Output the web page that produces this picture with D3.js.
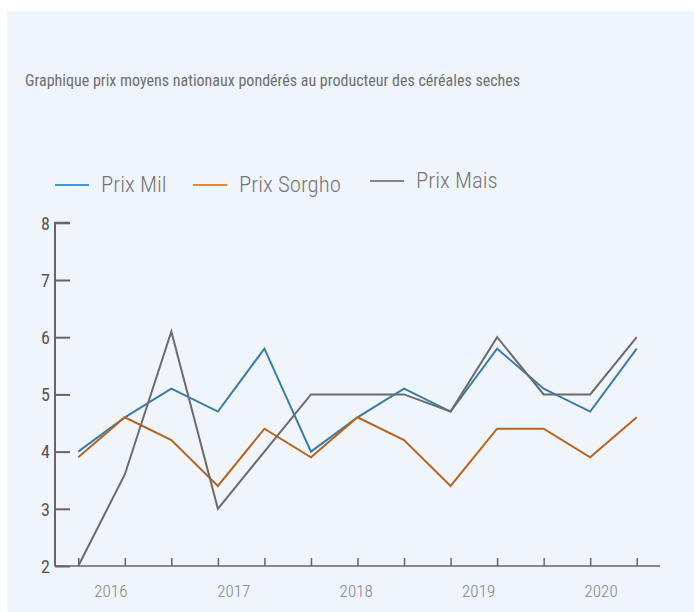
<!DOCTYPE html>
<html>
<head>
<meta charset="utf-8">
<script src="https://cdn.jsdelivr.net/npm/d3@7"></script>
<style>
  html, body { margin: 0; padding: 0; background: #ffffff; }
  svg { display: block; }
  text { font-family: "Roboto", "Liberation Sans Narrow", sans-serif; font-stretch: condensed; }
</style>
</head>
<body>
<svg id="chart" width="694" height="612"></svg>
<script>
// Prix moyens nationaux pondérés au producteur (par période)
const periods = d3.range(13);
const prixMil    = [4.0, 4.6, 5.1, 4.7, 5.8, 4.0, 4.6, 5.1, 4.7, 5.8, 5.1, 4.7, 5.8];
const prixSorgho = [3.9, 4.6, 4.2, 3.4, 4.4, 3.9, 4.6, 4.2, 3.4, 4.4, 4.4, 3.9, 4.6];
const prixMais   = [2.0, 3.6, 6.1, 3.0, 4.0, 5.0, 5.0, 5.0, 4.7, 6.0, 5.0, 5.0, 6.0];
const yTicks = [2, 3, 4, 5, 6, 7, 8];
const yearLabels = ["2016", "2017", "2018", "2019", "2020"];
const timeSpan = [new Date(2015, 6, 20), new Date(2020, 5, 26)];

const series = [
  { name: "Prix Mil",    values: prixMil,    line: "#3a7da3", swatch: "#3d9ad6", dy: 0 },
  { name: "Prix Sorgho", values: prixSorgho, line: "#b5651f", swatch: "#f0862a", dy: 0 },
  { name: "Prix Mais",   values: prixMais,   line: "#6b6b6b", swatch: "#888888", dy: -4 }
];

const svg = d3.select("#chart");

svg.append("rect")
  .attr("x", 7).attr("y", 11)
  .attr("width", 687).attr("height", 601)
  .attr("fill", "#f0f4fb");

svg.append("text")
  .attr("x", 25).attr("y", 86)
  .attr("font-size", 16)
  .attr("fill", "#6f6f6f")
  .text("Graphique prix moyens nationaux pondérés au producteur des céréales seches");

const plotLeft = 55, plotRight = 660, plotTop = 222.8, plotBottom = 566;

const x = d3.scalePoint().domain(periods).range([plotLeft, plotRight]).padding(0.5);
const y = d3.scaleLinear().domain([2, 8]).range([plotBottom, plotTop]);
const xTime = d3.scaleTime().domain(timeSpan).range([plotLeft, plotRight]);

// Axe vertical
const yAxis = svg.append("g")
  .attr("transform", `translate(${plotLeft},0)`)
  .call(d3.axisRight(y).tickValues(yTicks).tickSize(15).tickFormat(d3.format("d")));
yAxis.select(".domain").attr("stroke", "#666").attr("stroke-width", 2).attr("d", `M15,${plotTop}H0V${plotBottom}`);
yAxis.selectAll(".tick line").attr("stroke", "#666").attr("stroke-width", 2);
yAxis.selectAll(".tick text")
  .attr("x", -5).attr("text-anchor", "end").attr("dy", "0.35em")
  .attr("font-size", 18).attr("fill", "#555");

// Axe horizontal : graduations par période
const xAxis = svg.append("g")
  .attr("transform", `translate(0,${plotBottom})`)
  .call(d3.axisTop(x).tickSize(8).tickFormat(""));
xAxis.select(".domain").attr("stroke", "#666").attr("stroke-width", 1.5).attr("d", `M${plotLeft},0H${plotRight}`);
xAxis.selectAll(".tick line").attr("stroke", "#666").attr("stroke-width", 1.5);

// Étiquettes des années
const yearAxis = svg.append("g")
  .attr("transform", `translate(0,${plotBottom})`)
  .call(d3.axisBottom(xTime).ticks(d3.timeYear.every(1)).tickSize(0).tickFormat((d, i) => yearLabels[i]));
yearAxis.select(".domain").remove();
yearAxis.selectAll(".tick text")
  .attr("y", 31).attr("dy", 0)
  .attr("font-size", 17).attr("font-weight", 300).attr("fill", "#858585");

// Courbes
const line = d3.line().x((d, i) => x(periods[i])).y(d => y(d));
svg.append("g").selectAll("path")
  .data(series)
  .join("path")
  .attr("d", d => line(d.values))
  .attr("fill", "none")
  .attr("stroke", d => d.line)
  .attr("stroke-width", 2)
  .attr("stroke-linejoin", "miter");

// Légende
const legendX = [55, 193, 370];
const legend = svg.append("g").selectAll("g")
  .data(series)
  .join("g")
  .attr("transform", (d, i) => `translate(${legendX[i]},${185 + d.dy})`);
legend.append("line")
  .attr("x1", 0).attr("x2", 34)
  .attr("stroke", d => d.swatch).attr("stroke-width", 2);
legend.append("text")
  .attr("x", 46).attr("y", 7)
  .attr("font-size", 22.8).attr("font-weight", 300)
  .attr("fill", "#777")
  .text(d => d.name);
</script>
</body>
</html>
